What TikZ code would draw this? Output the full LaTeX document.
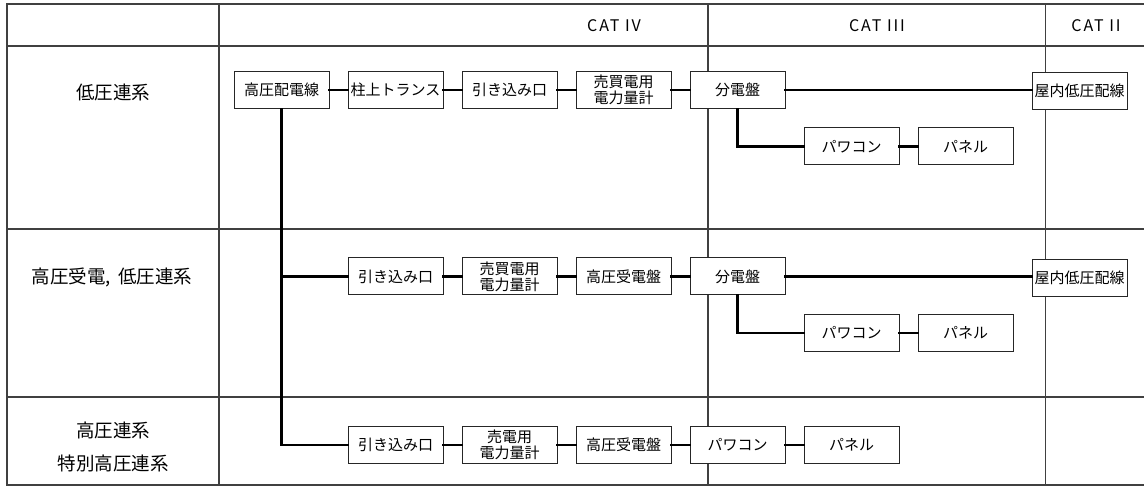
\documentclass[tikz,border=0pt]{standalone}
\usepackage{fontspec}
\setmainfont{Noto Sans CJK JP}
\begin{document}
\begin{tikzpicture}[x=1pt,y=-1pt,
  box/.style={draw=black!85, line width=1pt, fill=white, minimum width=95pt,
    minimum height=37pt, inner sep=0pt, align=center,
    font=\fontsize{15}{16}\selectfont},
  conn/.style={line width=2.5pt, line cap=rect},
  grid/.style={draw=black!75, line width=1.2pt},
  rowlabel/.style={align=center, inner sep=0pt, font=\fontsize{18.5}{33}\selectfont},
  cathead/.style={inner sep=0pt, font=\addfontfeatures{LetterSpace=12}\fontsize{16}{18}\selectfont}]
\clip (0,0) rectangle (1144,486);
% table
\draw[grid] (7,486) -- (7,4) -- (1150,4);
\foreach \yy in {46,229,397,485} \draw[grid] (7,\yy) -- (1150,\yy);
\foreach \xx in {219,708,1045.5} \draw[grid] (\xx,4) -- (\xx,490);
% headers
\node[cathead] (c4) at (614,26) {CAT IV};
\node[cathead] (c3) at (877,26) {CAT III};
\node[cathead] (c2) at (1096,26) {CAT II};
% row labels
\node[rowlabel] (r1) at (113,92) {低圧連系};
\node[rowlabel] (r2) at (112,277) {高圧受電,\hspace{0.15em} 低圧連系};
\node[rowlabel] (r3) at (113,446.5) {高圧連系\\特別高圧連系};
% row 1
\node[box] (h1) at (281.5,90) {高圧配電線};
\node[box] (t1) at (395.5,90) {柱上トランス};
\node[box] (k1) at (509.5,90) {引き込み口};
\node[box] (m1) at (623.5,90) {売買電用\\電力量計};
\node[box] (d1) at (737.5,90) {分電盤};
\node[box] (o1) at (1079.5,91) {屋内低圧配線};
\node[box] (p1) at (851.5,146.5) {パワコン};
\node[box] (n1) at (965.5,146.5) {パネル};
% row 2
\node[box] (k2) at (395.5,276.5) {引き込み口};
\node[box] (m2) at (509.5,276.5) {売買電用\\電力量計};
\node[box] (j2) at (623.5,276.5) {高圧受電盤};
\node[box] (d2) at (737.5,276.5) {分電盤};
\node[box] (o2) at (1079.5,278) {屋内低圧配線};
\node[box] (p2) at (851.5,333) {パワコン};
\node[box] (n2) at (965.5,333) {パネル};
% row 3
\node[box] (k3) at (395.5,445) {引き込み口};
\node[box] (m3) at (509.5,445) {売電用\\電力量計};
\node[box] (j3) at (623.5,445) {高圧受電盤};
\node[box] (p3) at (737.5,445) {パワコン};
\node[box] (n3) at (851.5,445) {パネル};
% connectors
\draw[conn] (h1) -- (t1);
\draw[conn] (t1) -- (k1);
\draw[conn] (k1) -- (m1);
\draw[conn] (m1) -- (d1);
\draw[conn] (d1.east) -- (d1.east -| o1.west);
\draw[conn] (d1.south) |- (p1.west);
\draw[conn] (p1) -- (n1);
\draw[conn] (h1.south) |- (k3.west);
\draw[conn] (h1.south |- k2.west) -- (k2.west);
\draw[conn] (k2) -- (m2);
\draw[conn] (m2) -- (j2);
\draw[conn] (j2) -- (d2);
\draw[conn] (d2.east) -- (d2.east -| o2.west);
\draw[conn] (d2.south) |- (p2.west);
\draw[conn] (p2) -- (n2);
\draw[conn] (k3) -- (m3);
\draw[conn] (m3) -- (j3);
\draw[conn] (j3) -- (p3);
\draw[conn] (p3) -- (n3);
\end{tikzpicture}
\end{document}
